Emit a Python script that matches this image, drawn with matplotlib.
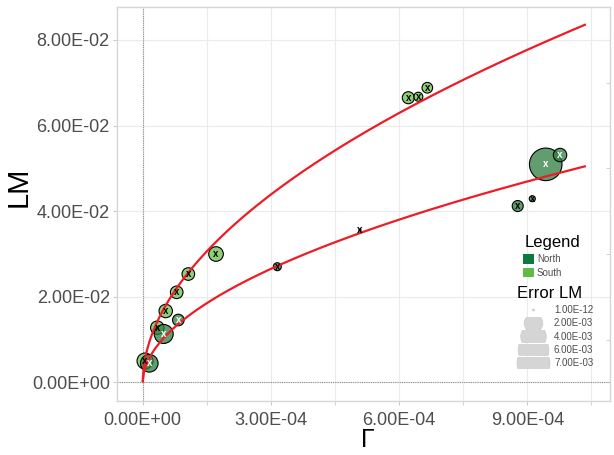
import matplotlib
matplotlib.use("Agg")
import matplotlib.pyplot as plt
import numpy as np
from matplotlib.patches import Circle, Rectangle
from matplotlib.ticker import FixedLocator, FuncFormatter

plt.rcParams['font.family'] = ['Liberation Sans', 'DejaVu Sans']

# ---------------- data ----------------
gamma = [5.5e-6, 1.55e-5, 3.42e-5, 4.92e-5, 5.39e-5, 8.34e-5, 7.96e-5, 1.068e-4, 1.716e-4,
         3.150e-4, 5.085e-4, 6.215e-4, 6.449e-4, 6.660e-4, 8.775e-4, 9.116e-4, 9.430e-4, 9.765e-4]
lm = [0.00498, 0.00444, 0.01276, 0.01129, 0.01666, 0.01456, 0.02103, 0.0253, 0.02998,
      0.02701, 0.03558, 0.0665, 0.06673, 0.06883, 0.04119, 0.0429, 0.05093, 0.05311]
region = ['South', 'North', 'South', 'North', 'South', 'North', 'South', 'South', 'South',
          'North', 'North', 'South', 'South', 'South', 'North', 'North', 'North', 'North']
error_lm = [1.43e-3, 1.77e-3, 9.5e-4, 2.1e-3, 9.5e-4, 6.7e-4, 8.2e-4, 8.2e-4, 1.16e-3,
            2.6e-4, 1e-12, 7.3e-4, 3.6e-4, 5.4e-4, 5.9e-4, 1.2e-4, 6.8e-3, 9.5e-4]
mark_white = [False, True, False, True, False, True, False, False, False,
              False, False, False, False, False, False, False, True, True]

# power-law fits  LM = a * Gamma^b
fit_a = [2.98, 1.80]
fit_b = [0.52, 0.52]
fit_xmax = 1.037e-3

legend_sizes = [1e-12, 2e-3, 4e-3, 6e-3, 7e-3]
legend_size_labels = ['1.00E-12', '2.00E-03', '4.00E-03', '6.00E-03', '7.00E-03']
regions = ['North', 'South']

x_major = [0, 3e-4, 6e-4, 9e-4]
x_minor = [1.5e-4, 4.5e-4, 7.5e-4, 1.05e-3]
y_major = [0, 0.02, 0.04, 0.06, 0.08]
y_minor = [0.01, 0.03, 0.05, 0.07]

# ---------------- style ----------------
W, H = 614, 455
DPI = 100
fill_pts = {'North': (0.18, 0.49, 0.25, 0.75), 'South': (0.42, 0.75, 0.29, 0.75)}
key_cols = {'North': '#0b7a3e', 'South': '#5dbb46'}
R_MIN, R_MAX, V_MAX = 1.0, 16.5, 7e-3


def radius_px(v):
    return R_MIN + (R_MAX - R_MIN) * np.sqrt(np.asarray(v) / V_MAX)


fig = plt.figure(figsize=(W / DPI, H / DPI), dpi=DPI)
L, R, B, T = 116.7, 610, 400.7, 7
ax = fig.add_axes([L / W, (H - B) / H, (R - L) / W, (B - T) / H])
ax.set_xlim(-6.08e-5, 1.0934e-3)
ax.set_ylim(-0.0043, 0.0877)

# grid
for xv in x_major + x_minor:
    ax.axvline(xv, color='#ebebeb', lw=0.8, zorder=0)
for yv in y_major:
    ax.axhline(yv, color='#ebebeb', lw=0.8, zorder=0)
ax.axvline(0, color='#8c8c8c', lw=0.8, ls=(0, (1, 1)), zorder=1)
ax.axhline(0, color='#8c8c8c', lw=0.8, ls=(0, (1, 1)), zorder=1)

# points
r = radius_px(error_lm)
sizes = (2 * r * 72 / DPI) ** 2
cols = [fill_pts[g] for g in region]
ax.scatter(gamma, lm, s=sizes, c=cols, edgecolors='black', linewidths=0.8, zorder=3)

# fitted curves
xs = np.linspace(0, fit_xmax, 400)
for a, b in zip(fit_a, fit_b):
    ax.plot(xs, a * xs ** b, color='#ee1c25', lw=1.6, zorder=4, solid_capstyle='butt')

for xv, yv, wht in zip(gamma, lm, mark_white):
    ax.text(xv, yv, 'x', ha='center', va='center', fontsize=7, fontweight='bold',
            color='white' if wht else 'black', zorder=5)

# axes styling
fmt = FuncFormatter(lambda v, p: f"{v:.2E}")
ax.xaxis.set_major_locator(FixedLocator(x_major))
ax.xaxis.set_minor_locator(FixedLocator(x_minor))
ax.yaxis.set_major_locator(FixedLocator(y_major))
ax.yaxis.set_minor_locator(FixedLocator(y_minor))
ax.xaxis.set_major_formatter(fmt)
ax.yaxis.set_major_formatter(fmt)
ax.tick_params(axis='x', which='both', length=3, color='#cccccc', labelsize=13,
               labelcolor='#4d4d4d', pad=5)
ax.tick_params(axis='y', which='major', length=3, color='#cccccc', labelsize=13,
               labelcolor='#4d4d4d', pad=2, left=True, right=False)
ax.tick_params(axis='y', which='minor', length=3, color='#cccccc', left=False,
               right=True, direction='in')
for s in ax.spines.values():
    s.set_color('#d6d6d6')
    s.set_linewidth(1.0)

# ---------------- overlay (pixel coords) ----------------
lax = fig.add_axes([0, 0, 1, 1], zorder=10)
lax.set_xlim(0, W)
lax.set_ylim(H, 0)
lax.axis('off')

# axis titles
lax.text(19, 187, 'LM', rotation=90, ha='center', va='center', fontsize=21, color='black')
lax.text(368, 440, 'Γ', ha='center', va='center', fontsize=18, color='black')

lax.text(552, 243, 'Legend', ha='center', va='center', fontsize=12, color='black')
for i, g in enumerate(regions):
    yc = 259 + i * 13.5
    lax.add_patch(Rectangle((523, yc - 4.8), 10.5, 9.6, facecolor=key_cols[g], edgecolor='none'))
    lax.text(537, yc, g, ha='left', va='center', fontsize=7, color='#4d4d4d')

lax.text(550, 294, 'Error LM', ha='center', va='center', fontsize=12, color='black')
for i, (v, lab) in enumerate(zip(legend_sizes, legend_size_labels)):
    yc = 310 + i * 13.3
    clip = Rectangle((500, yc - 6.2), 60, 12.4, transform=lax.transData, visible=False)
    lax.add_patch(clip)
    c = Circle((533.5, yc), float(radius_px(v)), facecolor='#d5d5d5', edgecolor='#c8c8c8',
               lw=0.5)
    lax.add_patch(c)
    c.set_clip_path(clip)
    lax.text(554, yc, lab, ha='left', va='center', fontsize=7, color='#4d4d4d')

fig.savefig('out.png', dpi=DPI)
